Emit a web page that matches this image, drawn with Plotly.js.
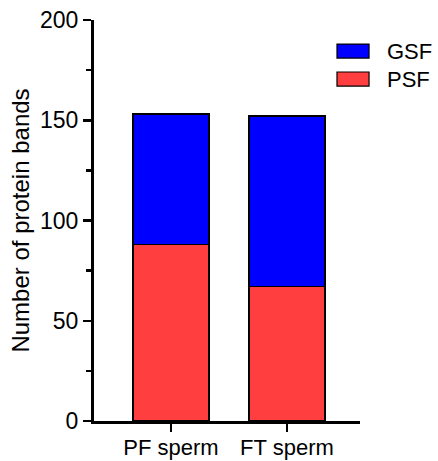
<!DOCTYPE html>
<html>
<head>
<meta charset="utf-8">
<script src="https://cdn.plot.ly/plotly-3.0.1.min.js"></script>
<style>html,body{margin:0;padding:0;background:#fff;}#chart{width:438px;height:461px;}</style>
</head>
<body>
<div id="chart"></div>
<script>
const categories = ["PF sperm", "FT sperm"];
const seriesNames = ["PSF", "GSF"];
const psfValues = [88, 67];
const gsfValues = [65, 85];
const seriesColors = ["#FF3F3F", "#0000FF"];
const yTickVals = [0, 50, 100, 150, 200];

const font = "Arial, 'Liberation Sans', Helvetica, sans-serif";

const traces = [
  {type: "bar", name: seriesNames[0], x: categories, y: psfValues,
   marker: {color: seriesColors[0], line: {color: "#000", width: 1.5}}, width: 0.655, showlegend: false},
  {type: "bar", name: seriesNames[1], x: categories, y: gsfValues,
   marker: {color: seriesColors[1], line: {color: "#000", width: 1.5}}, width: 0.655, showlegend: false}
];

// Custom legend (top entry = GSF)
const legendOrder = [1, 0];
const shapes = [];
const annotations = [];
legendOrder.forEach((idx, i) => {
  const y0 = 0.905 - i * 0.0697, y1 = 0.940 - i * 0.0697;
  shapes.push({type: "rect", xref: "paper", yref: "paper", x0: 0.9135, x1: 1.034, y0: y0, y1: y1,
    fillcolor: seriesColors[idx], line: {color: "#000", width: 1.2}});
  annotations.push({xref: "paper", yref: "paper", x: 1.095, y: (y0 + y1) / 2, xanchor: "left", yanchor: "middle",
    text: seriesNames[idx], showarrow: false, font: {family: font, size: 22, color: "#000"}});
});

const layout = {
  width: 438, height: 461,
  margin: {l: 94, r: 78, t: 20, b: 39.5},
  barmode: "stack",
  paper_bgcolor: "#fff", plot_bgcolor: "#fff",
  font: {family: font, color: "#000"},
  showlegend: false,
  xaxis: {
    range: [-0.664, 1.63], showline: true, linewidth: 3, linecolor: "#000",
    ticks: "outside", ticklen: 8, tickwidth: 2.5, tickcolor: "#000", ticklabelstandoff: -3,
    tickfont: {family: font, size: 22, color: "#000"}, showgrid: false, zeroline: false, fixedrange: true
  },
  yaxis: {
    range: [0, 200], tickvals: yTickVals, ticktext: yTickVals.map(String),
    showline: true, linewidth: 3, linecolor: "#000",
    ticks: "outside", ticklen: 8, tickwidth: 2.5, tickcolor: "#000",
    minor: {dtick: 25, ticks: "outside", ticklen: 5, tickwidth: 2.5, tickcolor: "#000", showgrid: false},
    tickfont: {family: font, size: 23, color: "#000"}, showgrid: false, zeroline: false,
    title: {text: "Number of protein bands", font: {family: font, size: 24, color: "#000"}, standoff: 4}
  },
  shapes: shapes,
  annotations: annotations
};

Plotly.newPlot("chart", traces, layout, {displayModeBar: false, staticPlot: true});
</script>
</body>
</html>
